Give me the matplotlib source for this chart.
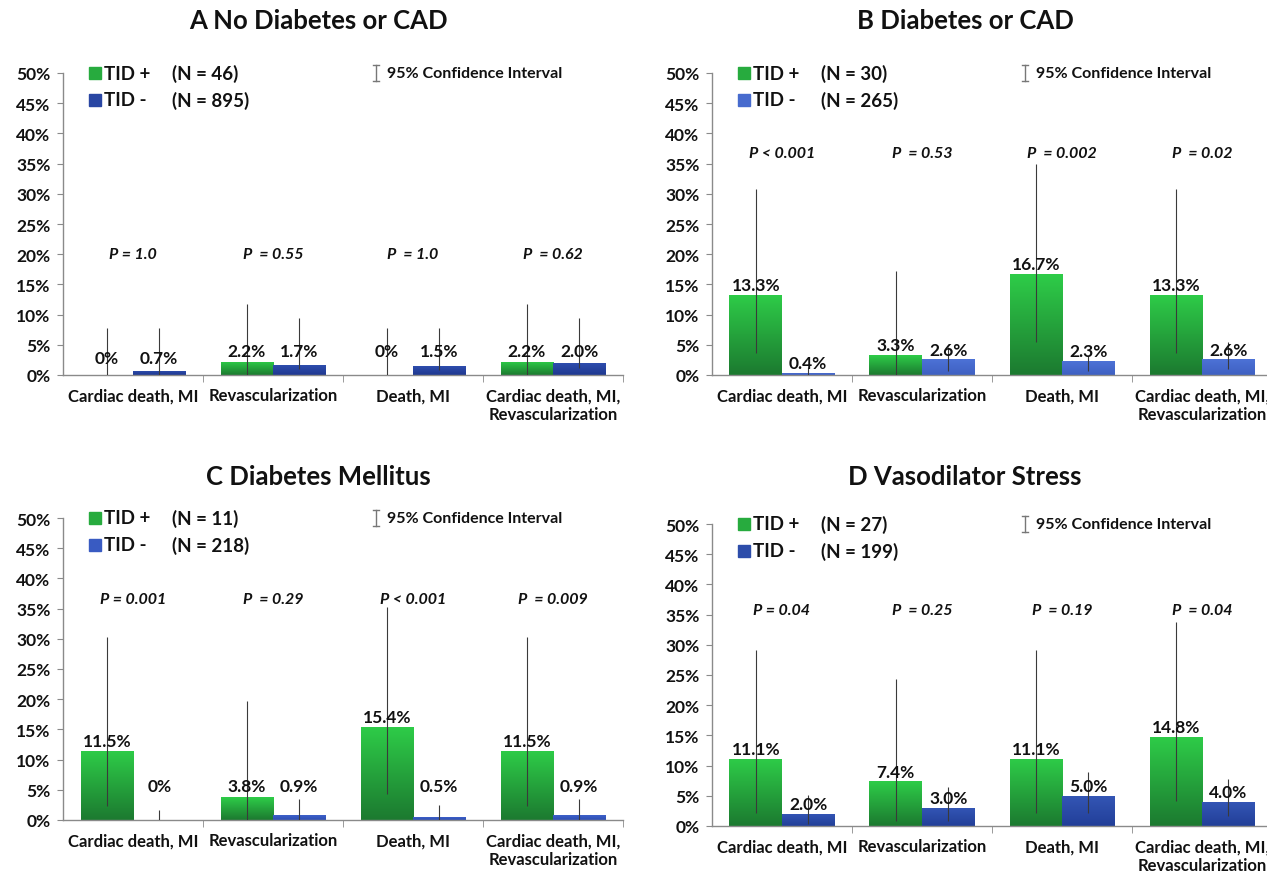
import numpy as np
import matplotlib
matplotlib.use("Agg")
import matplotlib.pyplot as plt
from matplotlib.colors import LinearSegmentedColormap
from matplotlib.patches import Rectangle

plt.rcParams['font.family'] = ['Lato', 'DejaVu Sans']

# ---------------- data ----------------
categories = ["Cardiac death, MI", "Revascularization", "Death, MI",
              "Cardiac death, MI,\nRevascularization"]
yticks = [0, 5, 10, 15, 20, 25, 30, 35, 40, 45, 50]

titles = ["A No Diabetes or CAD", "B Diabetes or CAD",
          "C Diabetes Mellitus", "D Vasodilator Stress"]
n_pos = [46, 30, 11, 27]
n_neg = [895, 265, 218, 199]

A_pos = [0, 2.2, 0, 2.2]
A_neg = [0.7, 1.7, 1.5, 2.0]
A_pos_hi = [7.8, 11.7, 7.8, 11.7]
A_pos_lo = [0, 0, 0, 0]
A_neg_hi = [7.8, 9.4, 7.8, 9.4]
A_neg_lo = [0, 1.0, 0.9, 1.1]
A_p = ["P = 1.0", "P  = 0.55", "P  = 1.0", "P  = 0.62"]

B_pos = [13.3, 3.3, 16.7, 13.3]
B_neg = [0.4, 2.6, 2.3, 2.6]
B_pos_hi = [30.8, 17.3, 34.9, 30.8]
B_pos_lo = [3.6, 0, 5.5, 3.6]
B_neg_hi = [1.4, 4.7, 3.1, 5.5]
B_neg_lo = [0, 0.7, 0.7, 1.0]
B_p = ["P < 0.001", "P  = 0.53", "P  = 0.002", "P  = 0.02"]

C_pos = [11.5, 3.8, 15.4, 11.5]
C_neg = [0, 0.9, 0.5, 0.9]
C_pos_hi = [30.3, 19.7, 35.2, 30.3]
C_pos_lo = [2.4, 0, 4.3, 2.4]
C_neg_hi = [1.7, 3.4, 2.5, 3.4]
C_neg_lo = [0, 0, 0, 0]
C_p = ["P = 0.001", "P  = 0.29", "P < 0.001", "P  = 0.009"]

D_pos = [11.1, 7.4, 11.1, 14.8]
D_neg = [2.0, 3.0, 5.0, 4.0]
D_pos_hi = [29.2, 24.4, 29.2, 33.7]
D_pos_lo = [2.2, 0.9, 2.2, 4.1]
D_neg_hi = [5.2, 6.4, 9.0, 7.7]
D_neg_lo = [0.4, 0.9, 2.2, 1.6]
D_p = ["P = 0.04", "P  = 0.25", "P  = 0.19", "P  = 0.04"]

# ---------------- layout / style ----------------
panels = [
    dict(pos=A_pos, neg=A_neg, phi=A_pos_hi, plo=A_pos_lo, nhi=A_neg_hi, nlo=A_neg_lo,
         p=A_p, p_y=20.0, floor=[2.85, 3.9, 3.9, 3.9],
         rect=[63, 376, 560, 302], title_xy=(318, 21),
         blue=('#2f4fb0', '#1f3890')),
    dict(pos=B_pos, neg=B_neg, phi=B_pos_hi, plo=B_pos_lo, nhi=B_neg_hi, nlo=B_neg_lo,
         p=B_p, p_y=36.8, floor=[0, 0, 0, 0],
         rect=[712, 376, 560, 302], title_xy=(965, 21),
         blue=('#4d72d6', '#3e60c2')),
    dict(pos=C_pos, neg=C_neg, phi=C_pos_hi, plo=C_pos_lo, nhi=C_neg_hi, nlo=C_neg_lo,
         p=C_p, p_y=36.6, floor=[5.7, 5.7, 5.7, 5.7],
         rect=[63, 821, 560, 302], title_xy=(318, 477),
         blue=('#3f63cc', '#2f4fb4')),
    dict(pos=D_pos, neg=D_neg, phi=D_pos_hi, plo=D_pos_lo, nhi=D_neg_hi, nlo=D_neg_lo,
         p=D_p, p_y=35.7, floor=[0, 0, 0, 0],
         rect=[712, 827, 560, 302], title_xy=(965, 477),
         blue=('#3456b6', '#223f98')),
]

W, H = 1267, 878
fig = plt.figure(figsize=(W / 100, H / 100), dpi=100)
fig.patch.set_facecolor('white')

green_cmap = LinearSegmentedColormap.from_list('g', ['#1c7a30', '#2ecc48'])
axis_col = '#8a8a8a'
err_col = '#3a3a3a'
bw = 0.375


def grad_bar(ax, x, h, cmap):
    bars = ax.bar([x], [h], width=bw, color=cmap(0.7), edgecolor='none', zorder=2)
    if h <= 0:
        return
    b = bars[0]
    grad = np.linspace(1, 0, 64).reshape(-1, 1)
    im = ax.imshow(grad, cmap=cmap, aspect='auto', zorder=2.1,
                   extent=[x - bw / 2, x + bw / 2, 0, h], interpolation='bicubic')
    im.set_clip_path(b)


for pnl, title, npos, nneg in zip(panels, titles, n_pos, n_neg):
    left, bottom_px, wpx, hpx = pnl['rect']
    ax = fig.add_axes([left / W, 1 - bottom_px / H, wpx / W, hpx / H])
    blue_cmap = LinearSegmentedColormap.from_list('b', [pnl['blue'][1], pnl['blue'][0]])
    x = np.arange(len(categories)) + 0.5
    for i in range(len(categories)):
        xg = x[i] - bw / 2
        xb = x[i] + bw / 2
        grad_bar(ax, xg, pnl['pos'][i], green_cmap)
        grad_bar(ax, xb, pnl['neg'][i], blue_cmap)
        ax.vlines([xg], [pnl['plo'][i]], [pnl['phi'][i]], color=err_col, lw=0.8, zorder=3)
        ax.vlines([xb], [pnl['nlo'][i]], [pnl['nhi'][i]], color=err_col, lw=0.8, zorder=3)
        for xv, v in ((xg, pnl['pos'][i]), (xb, pnl['neg'][i])):
            lab = "0%" if v == 0 else f"{v:.1f}%"
            ax.text(xv, max(v + 1.6, pnl['floor'][i]), lab, ha='center', va='center',
                    fontsize=12.5, fontweight='bold', color='#111111', zorder=4)
        ax.text(x[i], pnl['p_y'], pnl['p'][i], ha='center', va='center', fontsize=11.5,
                fontweight='bold', fontstyle='italic', color='#111111')

    ax.set_xlim(0, 4)
    ax.set_ylim(0, 50)
    ax.set_yticks(yticks)
    ax.set_yticklabels([f"{t}%" for t in yticks])
    ax.set_xticks(x)
    ax.set_xticklabels(categories)
    ax.set_xticks([1, 2, 3, 4], minor=True)
    ax.tick_params(axis='x', which='major', length=0, pad=9, labelsize=12)
    ax.tick_params(axis='x', which='minor', length=5, color=axis_col, direction='out')
    ax.tick_params(axis='y', length=4, color=axis_col, direction='out', pad=5, labelsize=12.5)
    for lab in ax.get_xticklabels() + ax.get_yticklabels():
        lab.set_fontweight('bold')
        lab.set_color('#111111')
    for s in ('top', 'right'):
        ax.spines[s].set_visible(False)
    for s in ('left', 'bottom'):
        ax.spines[s].set_color(axis_col)
        ax.spines[s].set_linewidth(1.0)
    ax.set_facecolor('none')

    # legend
    sq_w, sq_h = 12 / wpx, 12 / hpx
    for k, (col, lab, nn) in enumerate(((green_cmap(0.6), "TID +", npos),
                                        (blue_cmap(0.6), "TID -", nneg))):
        yy = 1.0 - k * 0.088
        ax.add_patch(Rectangle((0.046, yy - sq_h / 2), sq_w, sq_h, transform=ax.transAxes,
                               color=col, clip_on=False))
        ax.text(0.074, yy, lab, transform=ax.transAxes, ha='left', va='center',
                fontsize=13.5, fontweight='bold', color='#111111')
        ax.text(0.195, yy, f"(N = {nn})", transform=ax.transAxes, ha='left', va='center',
                fontsize=13.5, fontweight='bold', color='#111111')
    # CI symbol
    cx, cy, ch, cw = 0.559, 1.0, 0.027, 0.006
    ax.plot([cx, cx], [cy - ch, cy + ch], transform=ax.transAxes, color='#777777', lw=1,
            clip_on=False)
    for yy in (cy - ch, cy + ch):
        ax.plot([cx - cw, cx + cw], [yy, yy], transform=ax.transAxes, color='#777777',
                lw=1, clip_on=False)
    ax.text(0.578, 1.0, "95% Confidence Interval", transform=ax.transAxes, ha='left',
            va='center', fontsize=11.5, fontweight='bold', color='#111111')

    tx, ty = pnl['title_xy']
    fig.text(tx / W, 1 - ty / H, title, ha='center', va='center', fontsize=18.5,
             fontweight='bold', color='#111111')

fig.savefig("out.png", dpi=100, facecolor='white')
